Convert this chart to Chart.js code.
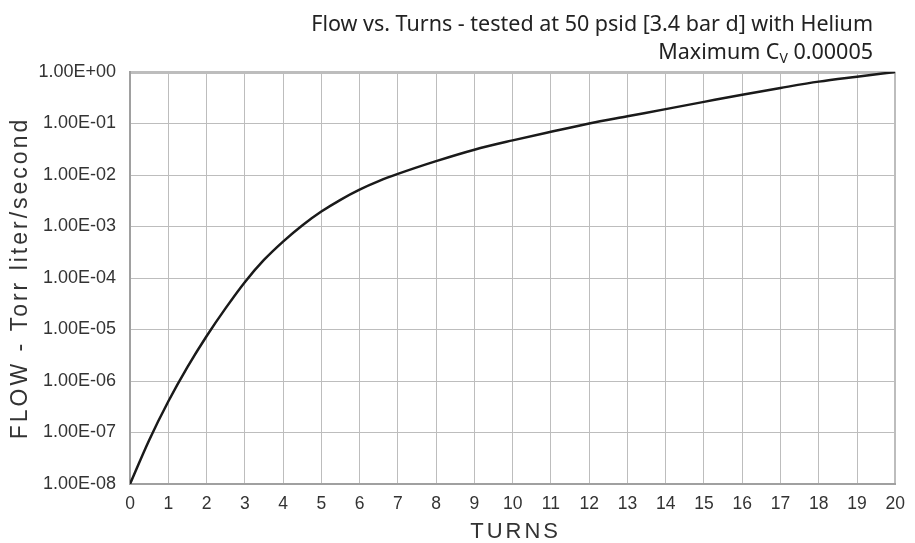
<!DOCTYPE html>
<html>
<head>
<meta charset="utf-8">
<script src="https://cdn.jsdelivr.net/npm/chart.js@4"></script>
<style>
  html, body { margin: 0; padding: 0; background: #fff; }
  #wrap { width: 915px; height: 543px; }
</style>
</head>
<body>
<div id="wrap"><canvas id="flow-chart" width="915" height="543"></canvas></div>
<script>
// Values
const turns = [0, 0.5, 1, 1.5, 2, 2.5, 3, 3.5, 4, 4.5, 5, 5.5, 6, 6.5, 7,
  8, 9, 10, 11, 12, 13, 14, 15, 16, 17, 18, 19, 20];
const flow = [1.0e-8, 7.1e-8, 4.0e-7, 1.86e-6, 7.4e-6, 2.6e-5, 8.3e-5, 2.24e-4, 5.1e-4, 1.05e-3, 1.95e-3, 3.3e-3,
  5.2e-3, 7.6e-3, 1.05e-2,
  1.86e-2, 3.1e-2, 4.7e-2, 6.9e-2, 0.1, 0.138, 0.19, 0.263, 0.363, 0.49, 0.65, 0.81, 1.0];
const yTicks = [1e-8, 1e-7, 1e-6, 1e-5, 1e-4, 1e-3, 1e-2, 1e-1, 1];

const titleLine1 = "Flow vs. Turns - tested at 50 psid [3.4 bar d] with Helium";
const titleLine2a = "Maximum C";
const titleLine2sub = "V";
const titleLine2b = " 0.00005";
const xTitle = "TURNS";
const yTitle = "FLOW - Torr liter/second";

// Format like 1.00E-03
function sciLabel(v) {
  const exp = Math.round(Math.log10(v));
  const sign = exp < 0 ? "-" : "+";
  const e = String(Math.abs(exp)).padStart(2, "0");
  return "1.00E" + sign + e;
}

// Titles drawn by hand (right aligned title, subscript, letter spacing)
const textPlugin = {
  id: "texts",
  afterDraw(chart) {
    const ctx = chart.ctx;
    const area = chart.chartArea;
    ctx.save();
    ctx.fillStyle = "#222";
    ctx.textBaseline = "alphabetic";

    // top title
    const titleFont = "21.5px 'Noto Sans'";
    ctx.font = titleFont;
    ctx.textAlign = "right";
    const rightX = 873;
    ctx.fillText(titleLine1, rightX, 31);
    const wB = ctx.measureText(titleLine2b).width;
    ctx.font = "14px 'Noto Sans'";
    const wSub = ctx.measureText(titleLine2sub).width;
    ctx.fillText(titleLine2sub, rightX - wB, 63);
    ctx.font = titleFont;
    ctx.fillText(titleLine2b, rightX, 59);
    ctx.fillText(titleLine2a, rightX - wB - wSub, 59);

    // x axis title
    ctx.font = "22px 'Liberation Sans', Arial, sans-serif";
    ctx.letterSpacing = "3px";
    ctx.textAlign = "center";
    ctx.fillStyle = "#333";
    ctx.fillText(xTitle, (area.left + area.right) / 2 + 3, 538);

    // y axis title
    ctx.font = "23px 'Liberation Sans', Arial, sans-serif";
    ctx.letterSpacing = "3px";
    ctx.translate(27, (area.top + area.bottom) / 2);
    ctx.rotate(-Math.PI / 2);
    ctx.fillText(yTitle, 0, 0);
    ctx.restore();
  }
};

const ctx = document.getElementById("flow-chart").getContext("2d");
new Chart(ctx, {
  type: "line",
  data: {
    datasets: [{
      data: turns.map((t, i) => ({ x: t, y: flow[i] })),
      borderColor: "#1a1a1a",
      borderWidth: 2.5,
      pointRadius: 0,
      fill: false,
      cubicInterpolationMode: "monotone"
    }]
  },
  options: {
    responsive: false,
    animation: false,
    layout: { padding: { top: 72, right: 13, left: 0, bottom: 0 } },
    plugins: {
      legend: { display: false },
      tooltip: { enabled: false }
    },
    scales: {
      x: {
        type: "linear",
        min: 0,
        max: 20,
        ticks: {
          stepSize: 1,
          padding: 10,
          color: "#333",
          font: { family: "'Liberation Sans', Arial, sans-serif", size: 17.5 }
        },
        grid: {
          drawTicks: false,
          color: "#bdbdbd",
          lineWidth: (c) => (c.index === 20 ? 2 : 1)
        },
        border: { color: "#a0a0a0", width: 2 },
        afterFit(scale) { scale.height = 59; }
      },
      y: {
        type: "logarithmic",
        min: 1e-8,
        max: 1,
        afterBuildTicks(scale) {
          scale.ticks = yTicks.map(v => ({ value: v }));
        },
        ticks: {
          padding: 14,
          color: "#333",
          font: { family: "'Liberation Sans', Arial, sans-serif", size: 18 },
          callback: (v) => sciLabel(v)
        },
        grid: {
          drawTicks: false,
          color: "#bdbdbd",
          lineWidth: (c) => (c.index === yTicks.length - 1 ? 3 : 1)
        },
        border: { color: "#a0a0a0", width: 2 },
        afterFit(scale) { scale.width = 130; }
      }
    }
  },
  plugins: [textPlugin]
});
</script>
</body>
</html>
